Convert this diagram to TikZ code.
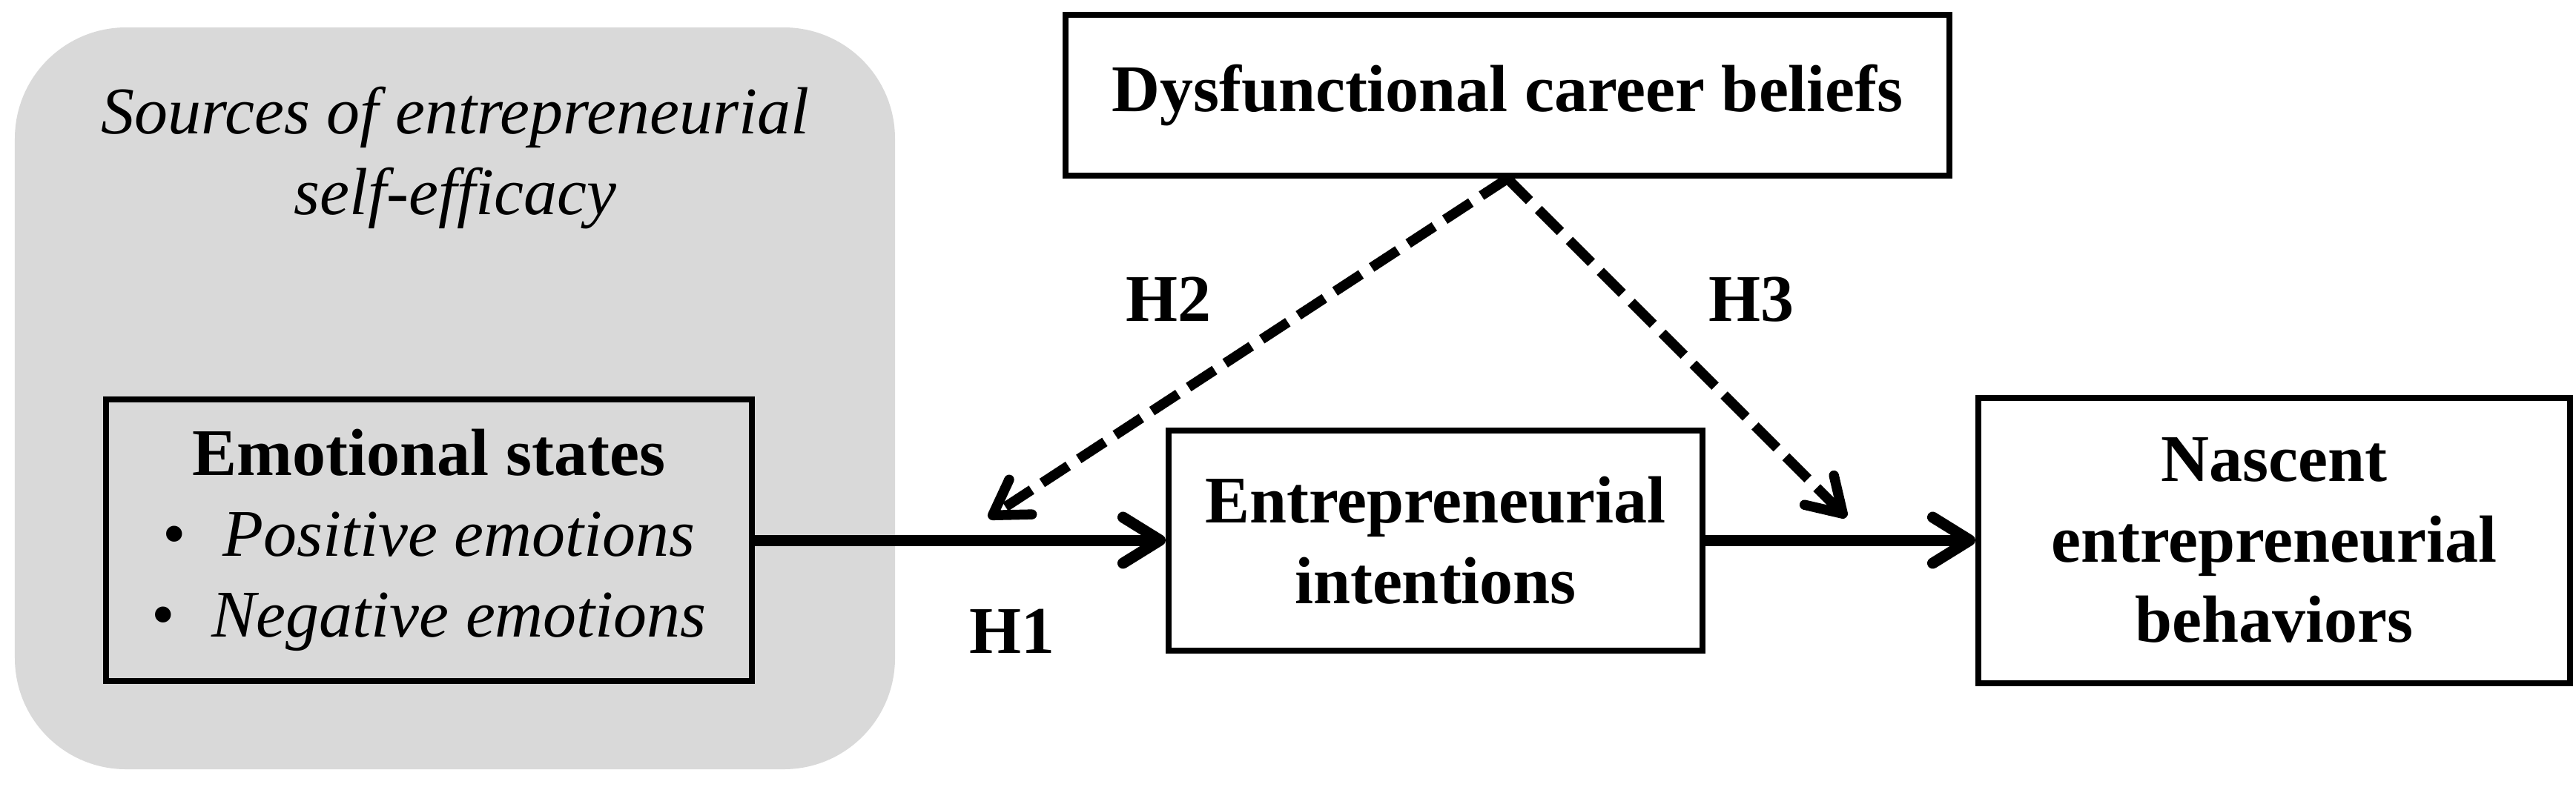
\documentclass[tikz,border=0pt]{standalone}
\usepackage{fontspec}
\setmainfont{Liberation Serif}
\usepackage{xcolor}
\usepackage{tikz}
\usetikzlibrary{arrows.meta,positioning}
\definecolor{srcGray}{RGB}{217,217,217}
\newcommand{\bigfont}{\fontsize{25.6}{31}\selectfont}

\begin{document}
\begin{tikzpicture}[
    node distance=0.7cm,
    srcBG/.style={rectangle, rounded corners=1.5cm, fill=srcGray, minimum width=11.87cm, minimum height=10.01cm, inner sep=0pt},
    boxE/.style={rectangle, draw=black, line width=0.08cm, minimum width=8.71cm, minimum height=3.8cm, inner sep=0pt, align=center, font=\bigfont},
    boxB/.style={rectangle, draw=black, line width=0.08cm, inner sep=0pt, align=center, font=\bigfont\bfseries},
    hlabel/.style={font=\bigfont\bfseries},
    arrow/.style={-{Straight Barb[length=0.5cm, width=0.62cm, round]}, line width=0.15cm},
    dasharrow/.style={-{Straight Barb[length=0.45cm, width=0.56cm, round]}, line width=0.135cm, dash pattern=on 0.42cm off 0.17cm}
]
\useasboundingbox (0,0) rectangle (34.74,-10.61);
\node[srcBG] (srcbg) at (6.135,-5.375) {};
\node[font=\bigfont\itshape, align=center] (srctitle) at (6.14,-2.13) {Sources of entrepreneurial\\self-efficacy};
\node[boxE] (emo) at (5.785,-7.29) {\textbf{Emotional states}\\
  \textbullet\hspace{0.5cm}\textit{Positive emotions}\\
  \textbullet\hspace{0.5cm}\textit{Negative emotions}};
\node[boxB, minimum width=7.2cm, minimum height=2.97cm, right=5.54cm of emo] (ent) {Entrepreneurial\\intentions};
\node[boxB, minimum width=7.98cm, minimum height=3.85cm, right=3.64cm of ent] (nas) {Nascent\\entrepreneurial\\behaviors};
\node[boxB, minimum width=11.92cm, minimum height=2.17cm] (dys) at (20.33,-1.285) {Dysfunctional career beliefs};
\coordinate (h2end) at (13.33,-6.99);
\coordinate (h3end) at (24.90,-6.98);
\draw[arrow] (emo) -- (ent);
\draw[arrow] (ent) -- (nas);
\draw[dasharrow] (dys.south) -- (h2end);
\draw[dasharrow] (dys.south) -- (h3end);
\node[hlabel] (h1) at (13.65,-8.52) {H1};
\node[hlabel] (h2) at (15.76,-4.04) {H2};
\node[hlabel] (h3) at (23.62,-4.04) {H3};
\end{tikzpicture}
\end{document}
